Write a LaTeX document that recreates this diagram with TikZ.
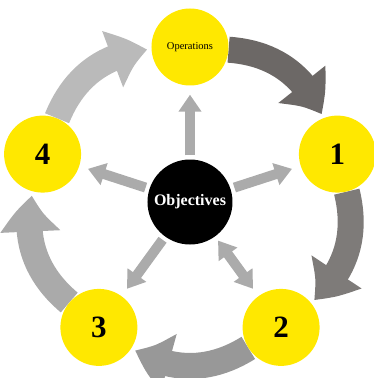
\documentclass[tikz,border=0pt]{standalone}
\usepackage{fontspec}
\setmainfont{Liberation Serif}
\usetikzlibrary{arrows.meta,bending}
\usetikzlibrary{backgrounds}
\definecolor{objyellow}{RGB}{255,232,0}
\definecolor{ringa}{RGB}{108,104,102}
\definecolor{ringb}{RGB}{126,123,121}
\definecolor{ringc}{RGB}{152,152,152}
\definecolor{ringd}{RGB}{170,170,170}
\definecolor{ringe}{RGB}{186,186,186}
\tikzset{spoke/.style={line width=10pt,color=black!33}}

\begin{document}
\begin{tikzpicture}
	[x=1pt,y=1pt,every node/.style={circle,fill=objyellow,minimum size=77pt,inner sep=0pt,font=\fontsize{31}{31}\selectfont\bfseries}]
	\useasboundingbox (-190,-176) rectangle (184,202);
	\node[style={circle,fill=black,minimum size=85pt,text=white,font=\fontsize{16}{16}\selectfont\bfseries}] (obj) at (0,0) {Objectives};
	\node[font=\fontsize{10.5}{10.5}\selectfont] (ops) at (90:155) {Operations};
	\node (n1) at (18:155) {1};
	\node (n2) at (-54:155) {2};
	\node (n3) at (-126:155) {3};
	\node (n4) at (162:155) {4};
	
	\begin{scope}[on background layer]
	\foreach \from/\to/\col in 
	{ops/n1/ringa, n1/n2/ringb, n2/n3/ringc, n3/n4/ringd, n4/ops/ringe}
	\draw[line width=26pt,color=\col,shorten >=4pt,-{Triangle[width=56pt,length=38pt,bend]}] (\from) to[bend left=32] (\to);
	\end{scope}
	
	\foreach \to in {ops,n1,n3,n4}
	\draw[spoke,shorten <=4pt,shorten >=9pt,-{Triangle[width=22pt,length=17pt]}] (obj) -- (\to);
	\draw[spoke,shorten <=5pt,shorten >=9pt,{Triangle[width=22pt,length=17pt]}-{Triangle[width=22pt,length=17pt]}] (obj) -- (n2);
\end{tikzpicture}
\end{document}
